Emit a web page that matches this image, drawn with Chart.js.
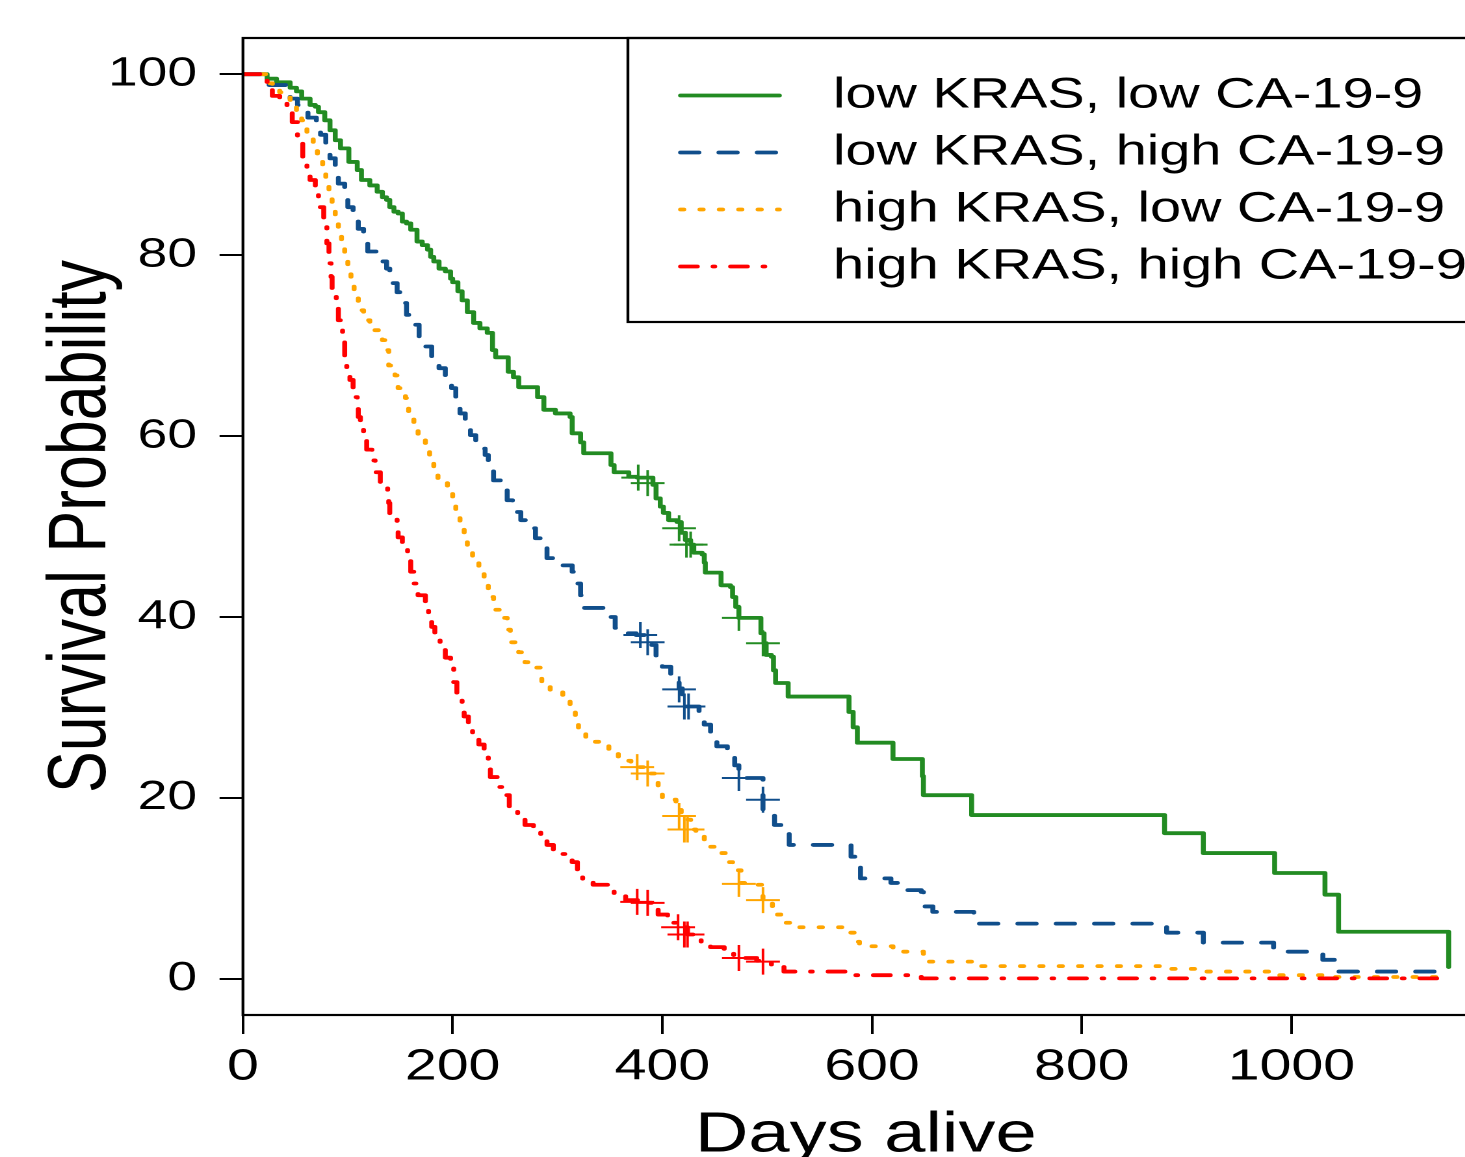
<!DOCTYPE html>
<html>
<head>
<meta charset="utf-8">
<title>Survival by KRAS and CA-19-9</title>
<script src="https://cdn.jsdelivr.net/npm/chart.js@4.4.1/dist/chart.umd.min.js"></script>
<style>
  html, body { margin: 0; padding: 0; background: #fff; overflow: hidden; }
  #frame { position: relative; width: 1465px; height: 1157px; overflow: hidden; }
  /* the source figure is stretched sideways, so the canvas is too */
  #km { position: absolute; left: 0; top: 0; transform-origin: 0 0; transform: scaleX(1.3); }
</style>
</head>
<body>
<div id="frame"><canvas id="km" width="1160" height="1190"></canvas></div>
<script>
const seriesLabels = ['low KRAS, low CA-19-9', 'low KRAS, high CA-19-9', 'high KRAS, low CA-19-9', 'high KRAS, high CA-19-9'];
const xTicks = [0, 200, 400, 600, 800, 1000];
const yTicks = [0, 20, 40, 60, 80, 100];

// Kaplan-Meier steps: survival (%) right after each event day
const lowLowDays = [0, 23, 32, 45, 51, 56, 64, 69, 72, 78, 83, 88, 93, 101, 109, 113, 121, 128, 133, 137,
  140, 144, 148, 152, 156, 160, 166, 171, 176, 179, 182, 187, 193, 198, 200, 205, 209, 214, 220, 226,
  233, 238, 241, 253, 258, 263, 281, 287, 298, 312, 314, 322, 325, 351, 354, 368, 376, 391, 394, 398,
  401, 406, 414, 418, 422, 427, 430, 438, 440, 441, 456, 465, 467, 470, 473, 494, 497, 499, 504, 506,
  508, 520, 578, 582, 586, 620, 648, 649, 695, 879, 916, 984, 1032, 1045, 1150];
const lowLowSurv = [100, 99.5, 99.1, 98.5, 98.1, 97.3, 96.6, 96.4, 95.8, 94.9, 93.8, 92.7, 91.8, 90.3, 89.4, 88.3, 87.7, 87.0, 86.4, 86.1,
  85.3, 84.8, 84.6, 83.7, 83.5, 82.8, 81.5, 81.1, 80.6, 79.8, 79.3, 78.5, 78.2, 77.4, 77.0, 76.0, 75.0, 73.7, 72.5, 71.9,
  71.4, 69.5, 68.7, 67.1, 66.5, 65.4, 64.3, 62.9, 62.5, 62.1, 60.3, 59.3, 58.1, 56.8, 56.0, 55.5, 55.4, 54.6, 53.1, 52.2,
  51.5, 50.7, 50.5, 49.3, 48.5, 48.0, 47.1, 46.9, 46.0, 44.9, 43.5, 43.3, 42.2, 41.1, 39.9, 38.2, 37.1, 35.8, 35.6, 34.1,
  32.7, 31.2, 29.5, 27.8, 26.1, 24.3, 22.4, 20.3, 18.1, 16.1, 13.9, 11.7, 9.3, 5.2, 1.3];

const lowHighDays = [0, 25, 45, 52, 62, 70, 74, 79, 83, 88, 91, 97, 100, 105, 110, 115, 119, 127, 137, 140,
  147, 152, 156, 162, 168, 174, 180, 187, 193, 199, 203, 207, 212, 217, 222, 231, 234, 239, 247, 252,
  257, 265, 273, 279, 287, 290, 303, 314, 317, 322, 325, 347, 355, 366, 375, 390, 394, 400, 408, 416,
  419, 423, 435, 440, 446, 452, 462, 469, 473, 496, 507, 516, 521, 580, 586, 589, 618, 628, 647, 649,
  658, 697, 881, 916, 983, 1030, 1045, 1150];
const lowHighSurv = [100, 98.8, 97.3, 96.6, 95.2, 94.4, 93.3, 92.0, 90.7, 89.2, 87.9, 86.6, 85.3, 83.9, 82.9, 81.5, 80.4, 79.3, 78.5, 76.9,
  75.9, 74.7, 73.4, 72.3, 71.0, 69.9, 68.6, 67.5, 66.4, 65.3, 63.8, 62.5, 61.4, 60.1, 58.6, 57.9, 56.6, 55.1, 54.2, 52.9,
  51.6, 50.7, 49.8, 48.7, 47.8, 46.5, 45.7, 45.0, 43.7, 42.4, 41.0, 40.0, 38.8, 38.2, 38.0, 36.9, 35.4, 34.5, 33.4, 32.1,
  30.8, 30.1, 29.0, 28.1, 26.8, 25.7, 24.8, 23.6, 22.2, 18.7, 17.0, 16.1, 14.8, 13.5, 12.3, 11.1, 10.6, 9.8, 9.6, 8.0,
  7.4, 6.1, 5.1, 4.0, 3.0, 2.1, 0.8, 0.8];

const highLowDays = [0, 22, 28, 35, 45, 51, 56, 61, 67, 71, 76, 79, 82, 85, 88, 91, 94, 97, 100, 103,
  106, 110, 115, 121, 133, 138, 139, 145, 148, 155, 158, 163, 167, 174, 178, 182, 186, 195, 200, 203,
  207, 211, 214, 219, 225, 230, 234, 239, 246, 252, 255, 263, 269, 279, 285, 293, 305, 312, 317, 320,
  327, 349, 358, 370, 386, 396, 400, 413, 418, 427, 432, 440, 451, 461, 467, 475, 487, 496, 505, 515,
  526, 578, 583, 588, 620, 649, 695, 886, 917, 986, 1039, 1150];
const highLowSurv = [100, 99.0, 98.6, 98.0, 97.1, 96.0, 94.9, 93.5, 92.4, 90.9, 89.7, 88.3, 86.9, 85.3, 83.9, 82.4, 80.9, 79.4, 78.3, 76.9,
  75.5, 73.9, 72.8, 71.7, 70.6, 69.5, 67.8, 66.7, 65.3, 64.2, 62.7, 61.4, 60.1, 59.0, 57.6, 56.2, 54.9, 54.0, 52.6, 51.3,
  49.9, 48.5, 47.2, 46.0, 44.9, 43.5, 42.2, 40.8, 39.9, 38.6, 37.2, 36.1, 35.0, 34.4, 32.8, 31.7, 31.1, 30.0, 28.8, 27.5,
  26.2, 25.0, 24.1, 23.4, 22.7, 21.1, 19.8, 18.9, 17.6, 16.5, 15.7, 14.6, 13.9, 12.9, 12.0, 10.6, 10.4, 8.7, 7.1, 6.2,
  5.7, 5.1, 4.1, 3.6, 3.0, 1.9, 1.4, 1.1, 0.8, 0.4, 0.2, 0.2];

const highHighDays = [0, 23, 28, 35, 42, 47, 52, 54, 57, 61, 64, 69, 72, 77, 80, 82, 84, 85, 89, 91,
  95, 97, 99, 102, 105, 109, 110, 112, 115, 118, 123, 126, 131, 138, 139, 140, 147, 148, 152, 157,
  160, 163, 167, 174, 177, 180, 183, 188, 193, 198, 201, 204, 209, 211, 215, 219, 225, 230, 234, 236,
  244, 250, 254, 262, 269, 277, 284, 290, 296, 305, 314, 319, 324, 334, 348, 354, 365, 386, 396, 405,
  415, 424, 437, 446, 459, 468, 490, 504, 516, 577, 647, 1150];
const highHighSurv = [100, 98.9, 97.6, 96.8, 96.0, 94.7, 93.0, 92.5, 90.8, 89.0, 88.3, 87.2, 85.3, 83.5, 81.3, 79.1, 77.6, 76.1, 74.7, 72.8,
  70.6, 68.7, 67.6, 66.2, 64.3, 63.8, 62.1, 60.7, 59.6, 58.5, 57.3, 56.0, 54.9, 54.0, 52.6, 51.0, 50.2, 48.8, 47.6, 46.3,
  45.0, 43.7, 42.4, 41.1, 40.0, 38.9, 37.5, 36.4, 35.5, 34.4, 32.8, 31.6, 30.1, 29.0, 27.8, 26.6, 25.9, 24.8, 23.4, 22.3,
  21.2, 20.3, 19.0, 18.1, 17.0, 16.7, 15.6, 14.8, 14.0, 13.8, 12.9, 11.5, 10.7, 10.4, 9.8, 9.3, 8.7, 8.4, 7.1, 6.2,
  5.7, 4.9, 4.1, 3.5, 3.2, 2.3, 2.0, 1.3, 0.8, 0.4, 0.05, 0.05];

// censored observations (+ marks)
const lowLowCensDays = [377, 386, 416, 423, 427, 473, 496];
const lowLowCensSurv = [55.4, 54.8, 49.8, 48.0, 48.0, 39.9, 37.1];
const lowHighCensDays = [379, 386, 416, 421, 425, 473, 496];
const lowHighCensSurv = [38.0, 37.2, 32.0, 30.1, 30.1, 22.2, 19.8];
const highLowCensDays = [376, 386, 416, 421, 424, 473, 496];
const highLowCensSurv = [23.4, 22.7, 18.0, 16.5, 16.5, 10.5, 8.7];
const highHighCensDays = [376, 386, 415, 421, 424, 473, 496];
const highHighCensSurv = [8.5, 8.4, 5.7, 4.9, 4.9, 2.3, 1.9];

const FONT = '"Liberation Sans", Arial, Helvetica, sans-serif';
const colors = ['#228B22', '#104E8B', '#FFA500', '#FF0000'];
const dashes = [[], [14.1, 15.4], [2.5, 12.4], [12.9, 12.1, 1.3, 12.2]];
const curves = [[lowLowDays, lowLowSurv], [lowHighDays, lowHighSurv], [highLowDays, highLowSurv], [highHighDays, highHighSurv]];
const censors = [[lowLowCensDays, lowLowCensSurv], [lowHighCensDays, lowHighCensSurv], [highLowCensDays, highLowCensSurv], [highHighCensDays, highHighCensSurv]];

const pts = (xs, ys) => xs.map((x, i) => ({ x: x, y: ys[i] }));

const datasets = [];
curves.forEach((c, i) => datasets.push({
  type: 'line',
  label: seriesLabels[i],
  data: pts(c[0], c[1]),
  borderColor: colors[i],
  borderWidth: 3.8,
  borderDash: dashes[i],
  borderCapStyle: 'round',
  borderJoinStyle: 'round',
  stepped: true, // horizontal then drop, like a KM curve
  pointRadius: 0,
  fill: false,
  order: 4 - i // red ends up on top
}));
censors.forEach((c, i) => datasets.push({
  type: 'scatter',
  label: '',
  data: pts(c[0], c[1]),
  showLine: false,
  pointStyle: 'cross',
  pointRadius: 13,
  pointBorderWidth: 2,
  borderColor: colors[i],
  backgroundColor: colors[i],
  order: 4 - i
}));

// plot frame + boxed legend in the top right corner
const boxLegend = {
  id: 'boxLegend',
  afterDraw(chart) {
    const ctx = chart.ctx;
    const a = chart.chartArea;
    ctx.save();
    ctx.strokeStyle = '#000';
    ctx.lineWidth = 2.2;
    ctx.setLineDash([]);
    ctx.strokeRect(a.left, a.top, a.right - a.left, a.bottom - a.top);
    ctx.strokeRect(483, a.top, a.right + 30 - 483, 322 - a.top);

    ctx.font = '43px ' + FONT;
    ctx.textBaseline = 'middle';
    ctx.textAlign = 'left';
    seriesLabels.forEach((label, i) => {
      const ds = chart.data.datasets[i];
      const y = 95.5 + i * 57;
      ctx.strokeStyle = ds.borderColor;
      ctx.lineWidth = ds.borderWidth;
      ctx.lineCap = 'round';
      ctx.setLineDash(ds.borderDash);
      ctx.beginPath();
      ctx.moveTo(523.5, y);
      ctx.lineTo(599.5, y);
      ctx.stroke();
      ctx.setLineDash([]);
      ctx.fillStyle = '#000';
      ctx.fillText(label, 640.8, y);
    });
    ctx.restore();
  }
};

new Chart(document.getElementById('km'), {
  type: 'line',
  data: { datasets: datasets },
  plugins: [boxLegend],
  options: {
    responsive: false,
    animation: false,
    devicePixelRatio: 2,
    layout: { padding: { top: 38, left: 0, right: 0, bottom: 0 } },
    plugins: {
      legend: { display: false },
      title: { display: false },
      tooltip: { enabled: false }
    },
    scales: {
      x: {
        type: 'linear',
        min: 0,
        max: 1188,
        afterBuildTicks: s => { s.ticks = xTicks.map(v => ({ value: v })); },
        afterFit: s => { s.height = 175; },
        border: { display: false },
        grid: { display: true, drawOnChartArea: false, drawTicks: true, tickLength: 19, tickWidth: 2, tickColor: '#000' },
        ticks: {
          color: '#000',
          font: { family: FONT, size: 44, lineHeight: 1 },
          padding: 11.5,
          autoSkip: false,
          maxRotation: 0,
          callback: v => String(v)
        },
        title: {
          display: true,
          text: 'Days alive',
          color: '#000',
          font: { family: FONT, size: 57, lineHeight: 1 },
          padding: { top: 0, bottom: 25.5 }
        }
      },
      y: {
        type: 'linear',
        min: -4,
        max: 104,
        afterBuildTicks: s => { s.ticks = yTicks.map(v => ({ value: v })); },
        afterFit: s => { s.width = 186.9; },
        border: { display: false },
        grid: { display: true, drawOnChartArea: false, drawTicks: true, tickLength: 18, tickWidth: 2, tickColor: '#000' },
        ticks: {
          color: '#000',
          font: { family: FONT, size: 41, lineHeight: 1 },
          padding: 17.4,
          callback: v => String(v)
        },
        title: {
          display: true,
          text: 'Survival Probability',
          color: '#000',
          font: { family: FONT, size: 62.7, lineHeight: 1 },
          padding: { top: 32.4, bottom: 0 }
        }
      }
    }
  }
});
</script>
</body>
</html>
